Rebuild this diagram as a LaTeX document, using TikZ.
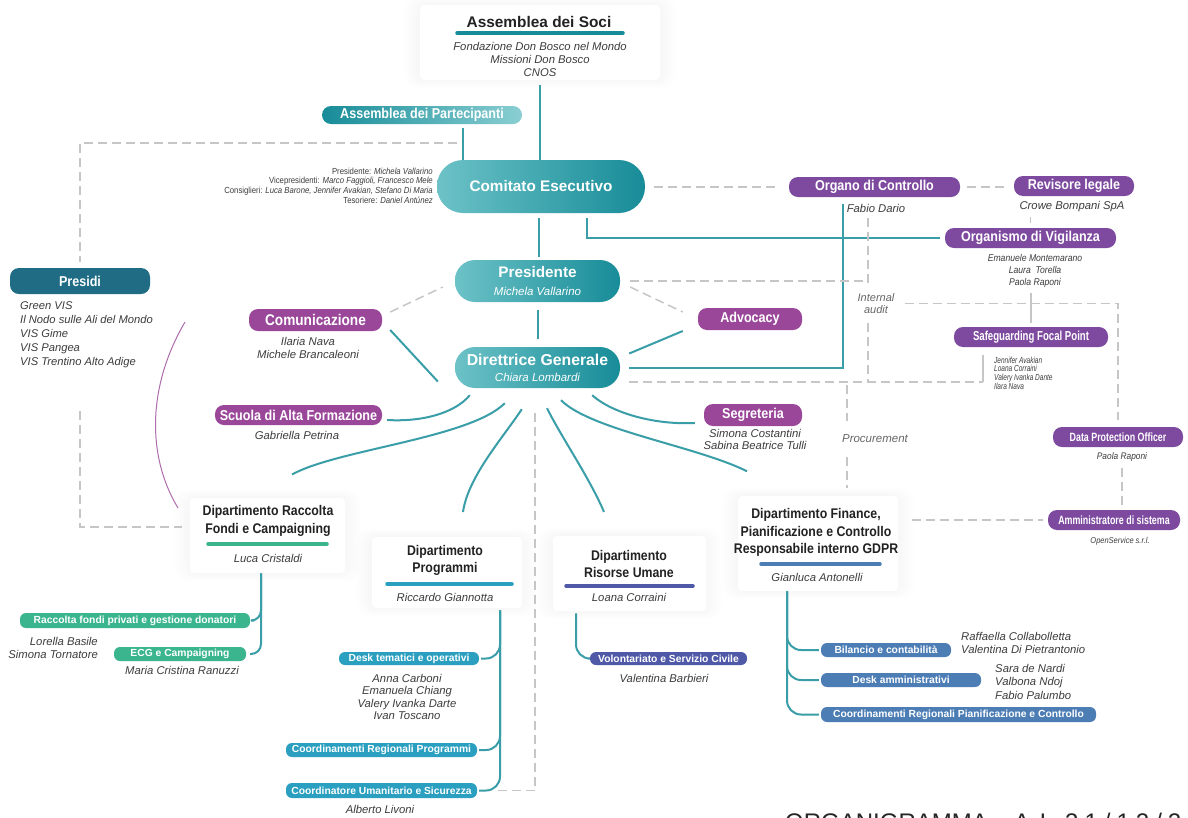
\documentclass[tikz,border=0pt]{standalone}
\usepackage{fontspec}
\setmainfont{Liberation Sans}
\newfontfamily\narrowfont{Liberation Sans}[FakeStretch=0.88]
\newfontfamily\condfont{Liberation Sans}[FakeStretch=0.74]
\usetikzlibrary{positioning}

\definecolor{tealL}{HTML}{6CC2C7}
\definecolor{tealD}{HTML}{178C98}
\definecolor{tealline}{HTML}{3A9EA8}
\definecolor{violetP}{HTML}{7D4A9F}
\definecolor{magentaP}{HTML}{9A4799}
\definecolor{presidiC}{HTML}{1F6C84}
\definecolor{greenP}{HTML}{3BB58E}
\definecolor{cyanP}{HTML}{2A9FC0}
\definecolor{indigoP}{HTML}{4F59A7}
\definecolor{blueP}{HTML}{4C7DB4}
\definecolor{dashgray}{HTML}{C6C6C6}
\definecolor{namegray}{HTML}{3C3C3C}
\definecolor{deptink}{HTML}{222222}

% soft white card with a faint halo
\newcommand\deptcard[4]{%
  \foreach \s in {2,4,...,16}
    \fill[black,opacity=0.005,rounded corners=12pt] (#1-\s,#2-\s/2) rectangle (#3+\s,#4+\s/2);
  \fill[white,rounded corners=4pt] (#1,#2) rectangle (#3,#4);}

\begin{document}
\begin{tikzpicture}
  [x=1pt,y=-1pt,
   tealink/.style={draw=tealline,line width=2pt},
   dashline/.style={draw=dashgray,line width=1.5pt,dash pattern=on 9pt off 5pt},
   thinline/.style={draw=dashgray,line width=1.4pt},
   wh/.style 2 args={minimum width=#1pt,minimum height=#2pt},
   pill/.style={inner sep=0pt,rounded corners=9pt,text=white,
     font=\narrowfont\bfseries\fontsize{14.3}{16}\selectfont},
   minipill/.style={inner sep=0pt,rounded corners=6pt,text=white,
     font=\bfseries\fontsize{10.3}{12}\selectfont},
   bigpill/.style={inner sep=0pt,align=center,text=white,left color=tealL,
     right color=tealD,font=\bfseries\fontsize{15.3}{18}\selectfont},
   who/.style={inner sep=0pt,align=center,text=namegray,
     font=\itshape\fontsize{11.3}{12.6}\selectfont},
   dept/.style={inner sep=0pt,align=center,text=deptink,
     font=\narrowfont\bfseries\fontsize{14}{17.5}\selectfont},
   deptbar/.style={line width=3.5pt,line cap=round}]

  \useasboundingbox (0,0) rectangle (1188,817);
  \clip (0,0) rectangle (1188,817);
  \fill[white] (0,0) rectangle (1188,817);

  % cards
  \deptcard{420}{5}{660}{80}
  \deptcard{190}{498}{345}{573}
  \deptcard{372}{537}{522}{608}
  \deptcard{553}{536}{706}{611}
  \deptcard{738}{496}{898}{591}

  % governance
  \node[inner sep=0pt,text=deptink,font=\bfseries\fontsize{15.4}{16}\selectfont] (soci) at (539,22) {Assemblea dei Soci};
  \draw[deptbar,tealD] (457,33) -- (623,33);
  \node[who] (sociN) at (540,59.5) {Fondazione Don Bosco nel Mondo\\Missioni Don Bosco\\CNOS};

  \node[pill,wh={200}{18},left color=tealD,right color=tealL!80] (part) at (422,115) {Assemblea dei Partecipanti};

  \node[bigpill,wh={208}{53},rounded corners=26pt] (ce) at (541,186.5) {Comitato Esecutivo};
  \node[anchor=east,align=right,inner sep=0pt,text=namegray,
    font=\narrowfont\fontsize{8.8}{9.7}\selectfont] (ceN) at (433,185.5)
    {Presidente: \textit{Michela Vallarino}\\
     Vicepresidenti: \textit{Marco Faggioli, Francesco Mele}\\
     Consiglieri: \textit{Luca Barone, Jennifer Avakian, Stefano Di Maria}\\
     Tesoriere: \textit{Daniel Antúnez}};

  \node[bigpill,wh={165}{42},rounded corners=20pt] (pres) at (537.5,281)
    {Presidente\\{\mdseries\itshape\fontsize{11.5}{12}\selectfont Michela Vallarino}};
  \node[bigpill,wh={165}{41},rounded corners=20pt,font=\bfseries\fontsize{15.8}{16}\selectfont] (dg) at (537.5,367.5)
    {Direttrice Generale\\{\mdseries\itshape\fontsize{11.5}{12}\selectfont Chiara Lombardi}};

  % control bodies
  \node[pill,fill=violetP,wh={171}{20}] (oc) at (874.5,187) {Organo di Controllo};
  \node[who] (ocN) at (876,208) {Fabio Dario};
  \node[pill,fill=violetP,wh={120}{20}] (rl) at (1074,186) {Revisore legale};
  \node[who] (rlN) at (1072,207) {Crowe Bompani SpA};
  \node[pill,fill=violetP,wh={171}{20}] (odv) at (1030.5,238) {Organismo di Vigilanza};
  \node[who,font=\narrowfont\itshape\fontsize{9.8}{12}\selectfont] (odvN) at (1035,271)
    {Emanuele Montemarano\\Laura\ \ Torella\\Paola Raponi};
  \node[pill,fill=violetP,wh={154}{20},font=\condfont\bfseries\fontsize{13}{14}\selectfont] (sfp) at (1031,337) {Safeguarding Focal Point};
  \node[who,anchor=west,align=left,font=\condfont\itshape\fontsize{8.8}{8.7}\selectfont] (sfpN) at (994,373)
    {Jennifer Avakian\\Loana Corraini\\Valery Ivanka Dante\\Ilara Nava};
  \node[pill,fill=violetP,wh={130}{20},font=\condfont\bfseries\fontsize{12}{14}\selectfont] (dpo) at (1118,437) {Data Protection Officer};
  \node[who,font=\narrowfont\itshape\fontsize{9.5}{10}\selectfont] (dpoN) at (1122,457) {Paola Raponi};
  \node[pill,fill=violetP,wh={132}{20},font=\condfont\bfseries\fontsize{12}{14}\selectfont] (adm) at (1114,520) {Amministratore di sistema};
  \node[who,font=\narrowfont\itshape\fontsize{8.5}{10}\selectfont] (admN) at (1120,541) {OpenService s.r.l.};

  % staff
  \node[pill,fill=magentaP,wh={104}{22}] (adv) at (750,319) {Advocacy};
  \node[pill,fill=magentaP,wh={98}{22}] (seg) at (753,415) {Segreteria};
  \node[who] (segN) at (755,439.5) {Simona Costantini\\Sabina Beatrice Tulli};
  \node[pill,fill=magentaP,wh={133}{22},font=\narrowfont\bfseries\fontsize{15.5}{16}\selectfont] (com) at (315.5,320) {Comunicazione};
  \node[who] (comN) at (308,348) {Ilaria Nava\\Michele Brancaleoni};
  \node[pill,fill=magentaP,wh={167}{20}] (sfa) at (298.5,415) {Scuola di Alta Formazione};
  \node[who] (sfaN) at (297,435) {Gabriella Petrina};

  \node[pill,fill=presidiC,wh={140}{26}] (presidi) at (80,281) {Presidi};
  \node[who,anchor=west,align=left,font=\itshape\fontsize{11.2}{14}\selectfont] (presidiN) at (20,335)
    {Green VIS\\Il Nodo sulle Ali del Mondo\\VIS Gime\\VIS Pangea\\VIS Trentino Alto Adige};

  % departments
  \node[dept] (racc) at (268,521) {Dipartimento Raccolta\\Fondi e Campaigning};
  \draw[deptbar,greenP] (208,544) -- (327,544);
  \node[who] (raccN) at (268,558) {Luca Cristaldi};

  \node[dept] (prog) at (445,560.5) {Dipartimento\\Programmi};
  \draw[deptbar,cyanP] (387,584) -- (512,584);
  \node[who] (progN) at (445,597) {Riccardo Giannotta};

  \node[dept] (ru) at (629,564) {Dipartimento\\Risorse Umane};
  \draw[deptbar,indigoP] (566,586) -- (693,586);
  \node[who] (ruN) at (629,597) {Loana Corraini};

  \node[dept] (fin) at (816,532.5) {Dipartimento Finance,\\Pianificazione e Controllo\\Responsabile interno GDPR};
  \draw[deptbar,blueP] (761,564) -- (880,564);
  \node[who] (finN) at (817,577) {Gianluca Antonelli};

  % units
  \node[minipill,fill=greenP,wh={230}{15}] (rfp) at (135,620.5) {Raccolta fondi privati e gestione donatori};
  \node[who,anchor=east,align=right] (rfpN) at (98,648) {Lorella Basile\\Simona Tornatore};
  \node[minipill,fill=greenP,wh={132}{14}] (ecg) at (180,654) {ECG e Campaigning};
  \node[who] (ecgN) at (182,670) {Maria Cristina Ranuzzi};

  \node[minipill,fill=cyanP,wh={140}{13}] (dto) at (409,658.5) {Desk tematici e operativi};
  \node[who] (dtoN) at (407,697) {Anna Carboni\\Emanuela Chiang\\Valery Ivanka Darte\\Ivan Toscano};
  \node[minipill,fill=cyanP,wh={191}{14}] (crp) at (381.5,750) {Coordinamenti Regionali Programmi};
  \node[minipill,fill=cyanP,wh={191}{15}] (cus) at (381.5,790.5) {Coordinatore Umanitario e Sicurezza};
  \node[who] (cusN) at (380,809) {Alberto Livoni};

  \node[minipill,fill=indigoP,wh={157}{13}] (vsc) at (668.5,658.5) {Volontariato e Servizio Civile};
  \node[who] (vscN) at (664,678) {Valentina Barbieri};

  \node[minipill,fill=blueP,wh={130}{14}] (bil) at (886,650) {Bilancio e contabilità};
  \node[who,anchor=west,align=left] (bilN) at (961,643) {Raffaella Collabolletta\\Valentina Di Pietrantonio};
  \node[minipill,fill=blueP,wh={160}{14}] (dam) at (901,680) {Desk amministrativi};
  \node[who,anchor=west,align=left,font=\itshape\fontsize{11.3}{13.5}\selectfont] (damN) at (995,681.5) {Sara de Nardi\\Valbona Ndoj\\Fabio Palumbo};
  \node[minipill,fill=blueP,wh={275}{15}] (crpc) at (958.5,714.5) {Coordinamenti Regionali Pianificazione e Controllo};

  % line labels
  \node[who,text=black!60,font=\itshape\fontsize{11}{12.5}\selectfont] (ia) at (876,303.5) {Internal\\audit};
  \node[who,text=black!60,font=\itshape\fontsize{11.5}{12}\selectfont] (proc) at (875,439) {Procurement};

  % date line, cut by the page edge as in the source
  \node[anchor=base west,inner sep=0pt,text=black!85,font=\fontsize{24}{26}\selectfont] (title) at (785,830)
    {ORGANIGRAMMA\hspace{26pt}A\hspace{10pt}L\hspace{12pt}3\hspace{6pt}1\hspace{6pt}/\hspace{6pt}1\hspace{6pt}2\hspace{6pt}/\hspace{6pt}2\hspace{6pt}0};

  % guide points
  \coordinate (partJ) at (457,143);
  \coordinate (audA) at (868,218);
  \coordinate (audB) at (868,283);
  \coordinate (audC) at (868,323);
  \coordinate (dgDash) at (983,382);
  \coordinate (procA) at (847,385);
  \coordinate (procB) at (847,421);
  \coordinate (procC) at (847,457);
  \coordinate (procD) at (847,488);
  \coordinate (dgC) at (535,413);

  % solid links
  \draw[tealink,shorten <=9pt] (sociN.south) -- (sociN.south |- ce.north);
  \draw[tealink,shorten <=4pt] ([xshift=41pt]part.south) -- ([xshift=41pt]part.south |- ce.north);
  \draw[tealink,shorten <=5pt,shorten >=3pt] ([xshift=-2pt]ce.south) -- ([xshift=-2pt]ce.south |- pres.north);
  \draw[tealink,shorten <=8pt,shorten >=8pt] (pres.south) -- (dg.north);
  \draw[tealink] ([xshift=46pt,yshift=-5pt]ce.south) |- ([xshift=-5pt]odv.west);
  \draw[tealink] ([xshift=9pt]dg.east) -| ([xshift=-4pt]ocN.north west);
  \draw[tealink] ([xshift=9pt,yshift=14pt]dg.east) -- ([xshift=-15pt,yshift=-12pt]adv.west);
  \draw[tealink] ([xshift=8pt,yshift=-10pt]com.east) -- ([xshift=-17pt,yshift=-14pt]dg.west);

  % links from the Direttrice
  \draw[tealink] ([xshift=15pt,yshift=-7pt]dg.south west) .. controls +(-15,18) and +(35,2) .. ([xshift=5pt,yshift=-5pt]sfa.east);
  \draw[tealink] ([xshift=50pt,yshift=-15pt]dg.south west) .. controls +(-35,35) and +(45,-25) .. ([xshift=24pt,yshift=31pt]racc.north);
  \draw[tealink] ([xshift=67pt,yshift=-21pt]dg.south west) .. controls +(-20,30) and +(5,-35) .. ([xshift=18pt,yshift=33pt]prog.north);
  \draw[tealink] ([xshift=9.5pt,yshift=-20pt]dg.south) .. controls +(15,30) and +(-15,-35) .. ([xshift=-25pt,yshift=38pt]ru.north);
  \draw[tealink] ([xshift=23.5pt,yshift=-12pt]dg.south) .. controls +(30,30) and +(-50,-25) .. ([xshift=-69pt,yshift=37pt]fin.north);
  \draw[tealink] ([xshift=-28pt,yshift=-7pt]dg.south east) .. controls +(20,18) and +(-40,2) .. ([xshift=-9pt,yshift=-8pt]seg.west);

  % department branches
  \draw[tealink,rounded corners=10pt] ([xshift=-7pt,yshift=-11pt]raccN.south) |- ([xshift=4pt]rfp.east);
  \draw[tealink,rounded corners=10pt] ([xshift=-7pt,yshift=-11pt]raccN.south) |- ([xshift=4pt]ecg.east);
  \draw[tealink,rounded corners=14pt] ([xshift=55pt,yshift=-9pt]progN.south) |- ([xshift=2pt]dto.east);
  \draw[tealink,rounded corners=14pt] ([xshift=55pt,yshift=-9pt]progN.south) |- ([xshift=2pt]crp.east);
  \draw[tealink,rounded corners=14pt] ([xshift=55pt,yshift=-9pt]progN.south) |- ([xshift=2pt]cus.east);
  \draw[tealink,rounded corners=14pt] ([xshift=-53pt,yshift=-12pt]ruN.south) |- ([xshift=-2pt]vsc.west);
  \draw[tealink,rounded corners=14pt] ([xshift=-30pt,yshift=-10pt]finN.south) |- ([xshift=-2pt]bil.west);
  \draw[tealink,rounded corners=14pt] ([xshift=-30pt,yshift=-10pt]finN.south) |- ([xshift=-2pt]dam.west);
  \draw[tealink,rounded corners=14pt] ([xshift=-30pt,yshift=-10pt]finN.south) |- ([xshift=-2pt]crpc.west);

  % dashed and grey links
  \draw[dashline] (partJ) -| ([yshift=6pt]presidi.north);
  \draw[dashline] ([yshift=-43pt]presidiN.south -| presidi.south) |- ([xshift=-20pt,yshift=-6pt]racc.west);
  \draw[dashline,shorten <=9pt,shorten >=10pt] (ce.east |- oc.west) -- (oc.west);
  \draw[dashline,shorten <=7pt,shorten >=7pt] (oc.east) -- (oc.east -| rl.west);
  \draw[dashline] ([xshift=8pt,yshift=8pt]com.east) -- ([xshift=-12pt,yshift=-6pt]pres.west);
  \draw[dashline] ([xshift=10pt,yshift=-6pt]pres.east) -- ([xshift=-15pt,yshift=7pt]adv.west);
  \draw[dashline] ([xshift=10pt]pres.east) -- (audB |- pres.east);
  \draw[dashline] (audA) -- (audB);
  \draw[dashline] (audC) -- (audC |- dgDash);
  \draw[dashline] ([xshift=10pt]ia.east) -| ([yshift=7pt]dpo.north);
  \draw[dashline] ([xshift=9pt,yshift=-14.5pt]dg.east) -- (dgDash);
  \draw[thinline] (dgDash) -- ([yshift=2pt]dgDash |- sfpN.north);
  \draw[thinline] ([yshift=-5pt]odv.north |- rlN.south) -- ([yshift=5pt]odv.north);
  \draw[thinline] ([yshift=-5pt]odvN.south -| sfp.north) -- ([yshift=4pt]sfp.north);
  \draw[dashline] (procA) -- (procB);
  \draw[dashline] (procC) -- (procD);
  \draw[dashline] ([yshift=-6pt]dpoN.south) -- ([yshift=3pt]adm.north -| dpoN.south);
  \draw[dashline] ([xshift=14pt]fin.east |- adm.west) -- ([xshift=-5pt]adm.west);
  \draw[dashline] (dgC) |- ([xshift=18pt]cus.east);

  % arc beside the Presidi
  \draw[magentaP!80,line width=1pt] (185,322) .. controls (148,385) and (146,455) .. (178,508);
\end{tikzpicture}
\end{document}
